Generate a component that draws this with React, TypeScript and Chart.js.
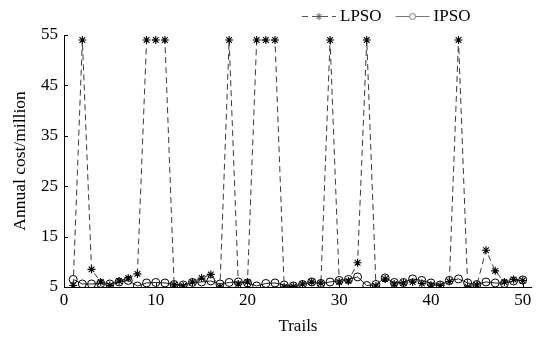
import React, { useEffect, useRef } from "react";
import { Chart, registerables } from "chart.js";

Chart.register(...registerables);

const trials = [
  1, 2, 3, 4, 5, 6, 7, 8, 9, 10, 11, 12, 13, 14, 15, 16, 17, 18, 19, 20, 21, 22, 23, 24, 25,
  26, 27, 28, 29, 30, 31, 32, 33, 34, 35, 36, 37, 38, 39, 40, 41, 42, 43, 44, 45, 46, 47, 48, 49, 50,
];

const lpso = [
  5.3, 54, 8.5, 6.0, 5.3, 6.2, 6.8, 7.6, 54, 54,
  54, 5.4, 5.2, 6.0, 6.8, 7.5, 5.0, 54, 5.6, 6.0,
  54, 54, 54, 5.0, 5.1, 5.6, 6.0, 5.8, 54, 6.0,
  6.2, 9.8, 54, 5.2, 6.6, 5.6, 5.8, 6.0, 5.7, 5.4,
  5.3, 6.1, 54, 5.0, 5.4, 12.3, 8.2, 6.0, 6.5, 6.3,
];

const ipso = [
  6.5, 5.6, 5.6, 5.7, 5.6, 6.0, 6.3, 5.2, 5.8, 5.9,
  5.8, 5.5, 5.4, 5.9, 6.0, 6.2, 5.6, 5.9, 6.0, 5.8,
  5.2, 5.7, 5.8, 5.4, 5.2, 5.5, 6.0, 5.7, 6.0, 6.3,
  6.5, 7.0, 5.3, 5.5, 6.8, 5.9, 5.9, 6.6, 6.3, 5.8,
  5.4, 6.3, 6.6, 5.8, 5.5, 6.0, 5.8, 5.7, 6.2, 6.4,
];

const seriesNames = ["LPSO", "IPSO"];
const xTickValues = [0, 10, 20, 30, 40, 50];
const yTickValues = [5, 15, 25, 35, 45, 55];

const FONT = '"Liberation Serif", "Times New Roman", serif';

const inwardTicks = {
  id: "inwardTicks",
  afterDraw(chart: any) {
    const { ctx, chartArea, scales } = chart;
    ctx.save();
    ctx.strokeStyle = "#000";
    ctx.lineWidth = 1;
    ctx.beginPath();
    for (const v of yTickValues) {
      const y = Math.round(scales.y.getPixelForValue(v)) + 0.5;
      ctx.moveTo(chartArea.left, y);
      ctx.lineTo(chartArea.left + 4, y);
    }
    for (const v of xTickValues) {
      const x = Math.round(scales.x.getPixelForValue(v)) + 0.5;
      ctx.moveTo(x, chartArea.bottom);
      ctx.lineTo(x, chartArea.bottom - 4);
    }
    ctx.stroke();
    ctx.restore();
  },
};

const customLegend = {
  id: "customLegend",
  afterDraw(chart: any) {
    const { ctx } = chart;
    const datasets = chart.data.datasets;
    ctx.save();
    ctx.font = `17px ${FONT}`;
    ctx.textBaseline = "middle";
    let x = 302;
    const y = 16;
    const sample = 34;
    datasets.forEach((ds: any) => {
      ctx.save();
      ctx.strokeStyle = ds.legendColor;
      ctx.lineWidth = 1;
      ctx.setLineDash(ds.borderDash || []);
      ctx.beginPath();
      ctx.moveTo(x, y + 0.5);
      ctx.lineTo(x + sample, y + 0.5);
      ctx.stroke();
      ctx.setLineDash([]);
      ctx.fillStyle = ds.pointStyle === "circle" ? "#fff" : ds.legendColor;
      const cx = x + sample / 2;
      const cy = y + 0.5;
      if (ds.pointStyle === "circle") {
        ctx.beginPath();
        ctx.arc(cx, cy, 3, 0, Math.PI * 2);
        ctx.fill();
        ctx.stroke();
      } else {
        const r = 3.5;
        const d = r * 0.707;
        ctx.beginPath();
        ctx.moveTo(cx - r, cy);
        ctx.lineTo(cx + r, cy);
        ctx.moveTo(cx, cy - r);
        ctx.lineTo(cx, cy + r);
        ctx.moveTo(cx - d, cy - d);
        ctx.lineTo(cx + d, cy + d);
        ctx.moveTo(cx - d, cy + d);
        ctx.lineTo(cx + d, cy - d);
        ctx.stroke();
      }
      ctx.restore();
      x += sample + 4;
      ctx.fillStyle = "#000";
      ctx.fillText(ds.label, x, y + 1);
      x += ctx.measureText(ds.label).width + 14;
    });
    ctx.restore();
  },
};

export default function App() {
  const ref = useRef<HTMLCanvasElement>(null);

  useEffect(() => {
    if (!ref.current) return;
    Chart.defaults.font.family = FONT;
    const chart = new Chart(ref.current, {
      type: "line",
      data: {
        datasets: [
          {
            label: seriesNames[0],
            data: trials.map((t, i) => ({ x: t, y: lpso[i] })),
            borderColor: "#3a3a3a",
            borderWidth: 1,
            borderDash: [6, 4],
            pointStyle: "star",
            pointRadius: 4,
            pointBorderColor: "#000",
            pointBackgroundColor: "#000",
            pointBorderWidth: 1.1,
            tension: 0,
            legendColor: "#555",
          } as any,
          {
            label: seriesNames[1],
            data: trials.map((t, i) => ({ x: t, y: ipso[i] })),
            borderColor: "#222",
            borderWidth: 1,
            pointStyle: "circle",
            pointRadius: 4,
            pointBorderColor: "#000",
            pointBackgroundColor: "rgba(0,0,0,0)",
            pointBorderWidth: 1,
            tension: 0,
            legendColor: "#777",
          } as any,
        ],
      },
      options: {
        animation: false,
        responsive: true,
        maintainAspectRatio: false,
        layout: { padding: { top: 35, right: 2, left: 0, bottom: 0 } },
        plugins: {
          legend: { display: false },
          tooltip: { enabled: false },
        },
        scales: {
          x: {
            type: "linear",
            min: 0,
            max: 51,
            afterFit: (s: any) => {
              s.height = 50;
            },
            afterBuildTicks: (s: any) => {
              s.ticks = xTickValues.map((v) => ({ value: v }));
            },
            ticks: {
              color: "#000",
              font: { size: 17, family: FONT },
              padding: 3,
              maxRotation: 0,
            },
            grid: { display: true, drawOnChartArea: false, drawTicks: false },
            border: { display: true, color: "#000", width: 1 },
            title: {
              display: true,
              text: "Trails",
              color: "#000",
              font: { size: 17, family: FONT },
              padding: { top: 0, bottom: 0 },
            },
          },
          y: {
            type: "linear",
            min: 5,
            max: 55,
            afterFit: (s: any) => {
              s.width = 64;
            },
            afterBuildTicks: (s: any) => {
              s.ticks = yTickValues.map((v) => ({ value: v }));
            },
            ticks: {
              color: "#000",
              font: { size: 17, family: FONT },
              padding: 6,
            },
            grid: { display: true, drawOnChartArea: false, drawTicks: false },
            border: { display: true, color: "#000", width: 1 },
            title: {
              display: true,
              text: "Annual cost/million",
              color: "#000",
              font: { size: 17.5, family: FONT },
              padding: { top: 10, bottom: 0 },
            },
          },
        },
      },
      plugins: [inwardTicks, customLegend],
    });
    return () => chart.destroy();
  }, []);

  return (
    <div style={{ position: "fixed", left: 0, top: 0, width: 537, height: 337, background: "#fff" }}>
      <canvas ref={ref} />
    </div>
  );
}
